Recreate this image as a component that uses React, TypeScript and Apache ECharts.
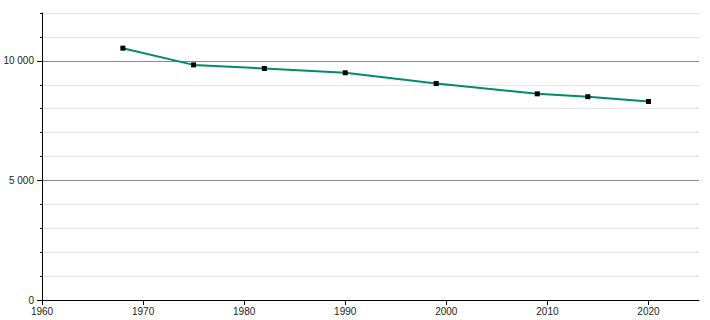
import React, { useEffect, useRef } from "react";
import * as echarts from "echarts";

const years = [1968, 1975, 1982, 1990, 1999, 2009, 2014, 2020];
const population = [10530, 9830, 9680, 9500, 9050, 8620, 8500, 8300];
const xTickValues = [1960, 1970, 1980, 1990, 2000, 2010, 2020];
const yMajorValues = [0, 5000, 10000];

const fmt = (v: number) =>
  String(v).replace(/\B(?=(\d{3})+(?!\d))/g, " ");

export default function App() {
  const ref = useRef<HTMLDivElement>(null);
  useEffect(() => {
    if (!ref.current) return;
    const chart = echarts.init(ref.current, undefined, { renderer: "svg" });
    const font = { fontFamily: "Liberation Sans, Arial, sans-serif", fontSize: 10, color: "#222" };
    chart.setOption({
      animation: false,
      grid: { left: 42, right: 11, top: 13, bottom: 20, containLabel: false },
      xAxis: {
        type: "value",
        min: 1960,
        max: 2025,
        interval: 10,
        axisLine: { show: true, lineStyle: { color: "#000", width: 1 } },
        axisTick: { show: true, length: 5, lineStyle: { color: "#000" }, customValues: xTickValues },
        axisLabel: { ...font, margin: 6, customValues: xTickValues, formatter: (v: number) => String(v) },
        splitLine: { show: false },
      },
      yAxis: [
        {
          type: "value",
          min: 0,
          max: 12000,
          interval: 1000,
          position: "left",
          axisLine: { show: true, lineStyle: { color: "#000", width: 1 } },
          axisTick: { show: true, length: 2, lineStyle: { color: "#000" } },
          axisLabel: { show: false },
          splitLine: {
            show: true,
            lineStyle: { color: ["#888", "#e4e4e4", "#e4e4e4", "#e4e4e4", "#e4e4e4"], width: 1 },
          },
        },
        {
          type: "value",
          min: 0,
          max: 12000,
          interval: 1000,
          position: "left",
          axisLine: { show: false },
          axisTick: { show: true, length: 5, lineStyle: { color: "#000" }, customValues: yMajorValues },
          axisLabel: { ...font, margin: 8, customValues: yMajorValues, formatter: (v: number) => fmt(v) },
          splitLine: { show: false },
        },
      ],
      series: [
        {
          type: "line",
          data: years.map((y, i) => [y, population[i]]),
          yAxisIndex: 0,
          symbol: "rect",
          symbolSize: 5,
          showAllSymbol: true,
          itemStyle: { color: "#000" },
          lineStyle: { color: "#008c6a", width: 2 },
          z: 5,
        },
      ],
    });
    return () => chart.dispose();
  }, []);
  return <div ref={ref} style={{ width: 710, height: 320, position: "absolute", left: 0, top: 0 }} />;
}
